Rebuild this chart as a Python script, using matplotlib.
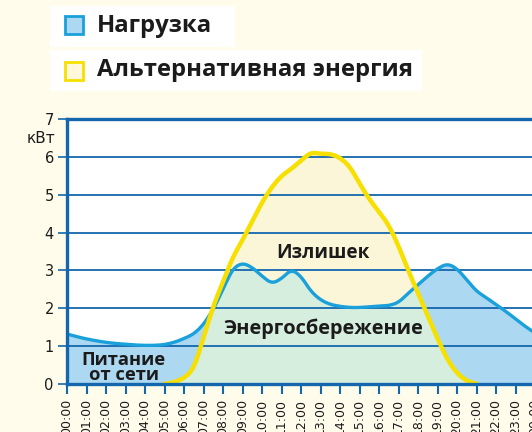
import matplotlib.pyplot as plt
from matplotlib.patches import Rectangle
import numpy as np

# hours of the day (half-hour steps), power in kW
hours = np.arange(0, 24.5, 0.5)
load = [1.32, 1.25, 1.19, 1.14, 1.10, 1.07, 1.05, 1.03, 1.02, 1.02,
        1.04, 1.10, 1.20, 1.32, 1.57, 1.97, 2.50, 3.05, 3.20, 3.08,
        2.85, 2.65, 2.78, 3.03, 2.85, 2.45, 2.22, 2.10, 2.05, 2.02,
        2.02, 2.04, 2.06, 2.07, 2.15, 2.40, 2.62, 2.85, 3.05, 3.18,
        3.05, 2.75, 2.45, 2.28, 2.10, 1.92, 1.72, 1.52, 1.35]
alt = [0, 0, 0, 0, 0, 0, 0, 0, 0, 0,
       0.0, 0.05, 0.15, 0.40, 1.22, 2.06, 2.70, 3.35, 3.80, 4.30,
       4.80, 5.20, 5.50, 5.68, 5.90, 6.12, 6.08, 6.08, 5.98, 5.75,
       5.30, 4.88, 4.55, 4.20, 3.65, 3.00, 2.40, 1.80, 1.20, 0.65,
       0.28, 0.08, 0.0, 0, 0, 0, 0, 0, 0]
tick_hours = list(range(25))
tick_labels = [f"{h % 24:02d}:00" for h in tick_hours]
ylab = [0, 1, 2, 3, 4, 5, 6, 7]

BG = "#fffcec"
FRAME = "#1467ad"
BLUE = "#1aa0da"
BLUE_FILL = "#acd9f1"
GREEN_FILL = "#d5eedd"
YEL = "#f7df00"
YEL_FILL = "#fcf6d8"
FONT = "Open Sans"
INK = "#1b1b1b"

W, H = 532, 432
fig = plt.figure(figsize=(W / 100, H / 100), dpi=100, facecolor=BG)


def px(x, y):
    return x / W, 1 - y / H


def smooth(x, y, n=12):
    # draw a polyline as chained quadratic curves through the segment midpoints
    x = np.asarray(x, float)
    y = np.asarray(y, float)
    mx = (x[:-1] + x[1:]) / 2
    my = (y[:-1] + y[1:]) / 2
    t = np.linspace(0, 1, n, endpoint=False)
    xs, ys = [x[0]], [y[0]]
    for i in range(1, len(x) - 1):
        a = (1 - t) ** 2
        b = 2 * (1 - t) * t
        c = t ** 2
        xs.extend(a * mx[i - 1] + b * x[i] + c * mx[i])
        ys.extend(a * my[i - 1] + b * y[i] + c * my[i])
    xs.extend([mx[-1], x[-1]])
    ys.extend([my[-1], y[-1]])
    return np.array(xs), np.array(ys)


# legend boxes
def legend_row(x0, y0, x1, y1, text, fc, ec, sq_y):
    fig.patches.append(Rectangle(px(x0, y1), (x1 - x0) / W, (y1 - y0) / H,
                                 transform=fig.transFigure, fc="white", ec="none"))
    fig.patches.append(Rectangle(px(65, sq_y + 18), 18 / W, 18 / H,
                                 transform=fig.transFigure, fc=fc, ec=ec, lw=2))
    tx, ty = px(97, (y0 + y1) / 2)
    fig.text(tx, ty, text, fontsize=17.2, fontweight="bold", family=FONT,
             color=INK, va="center", ha="left")


legend_row(50, 6, 235, 47, "Нагрузка", BLUE_FILL, BLUE, 16)
legend_row(50, 50, 422, 91, "Альтернативная энергия", "#fff8da", YEL, 62)

ax = fig.add_axes([67 / W, (H - 384) / H, 25 * 19.5 / W, 265 / H])
ax.set_facecolor("white")
ax.set_xlim(0, 25)
ax.set_ylim(0, 7)

sx, sload = smooth(hours, load)
_, salt = smooth(hours, alt)
both = np.minimum(sload, salt)
ax.fill_between(sx, 0, both, color=GREEN_FILL, lw=0, zorder=1)
ax.fill_between(sx, both, sload, where=sload >= salt, interpolate=True,
                color=BLUE_FILL, lw=0, zorder=1)
ax.fill_between(sx, both, salt, where=salt >= sload, interpolate=True,
                color=YEL_FILL, lw=0, zorder=1)

for y in ylab[1:-1]:
    ax.axhline(y, color=FRAME, lw=1.3, zorder=2)

ax.plot(sx, sload, color=BLUE, lw=2.4, zorder=3, solid_capstyle="round")
on = (sx >= 5) & (sx <= 21)
ax.plot(sx[on], salt[on], color=YEL, lw=3.2, zorder=4, solid_capstyle="round",
        solid_joinstyle="round")

ax.text(13.1, 3.47, "Излишек", fontsize=13.6, fontweight="bold", family=FONT,
        color=INK, ha="center", va="center", zorder=5)
ax.text(13.15, 1.45, "Энергосбережение", fontsize=14.4, fontweight="bold", family=FONT,
        color=INK, ha="center", va="center", zorder=5)
ax.text(2.9, 0.43, "Питание\nот сети", fontsize=13.2, fontweight="bold", family=FONT,
        color=INK, ha="center", va="center", linespacing=0.8, zorder=5)

for s in ax.spines.values():
    s.set_color(FRAME)
    s.set_linewidth(2.4)
    s.set_zorder(6)

ax.set_yticks(ylab)
ax.set_yticklabels([str(v) for v in ylab], fontsize=10.5)
ax.tick_params(axis="y", length=6.5, width=1.2, color=FRAME, pad=3, labelcolor=INK)
ax.set_xticks(tick_hours)
ax.set_xticklabels(tick_labels, rotation=90, fontsize=9, color=INK, va="top")
ax.tick_params(axis="x", length=7.5, width=1.5, color=FRAME, pad=3)
ax.text(-0.6, 6.48, "кВт", fontsize=11, ha="right", va="center", color=INK)

fig.savefig("out.png", dpi=100, facecolor=BG)
